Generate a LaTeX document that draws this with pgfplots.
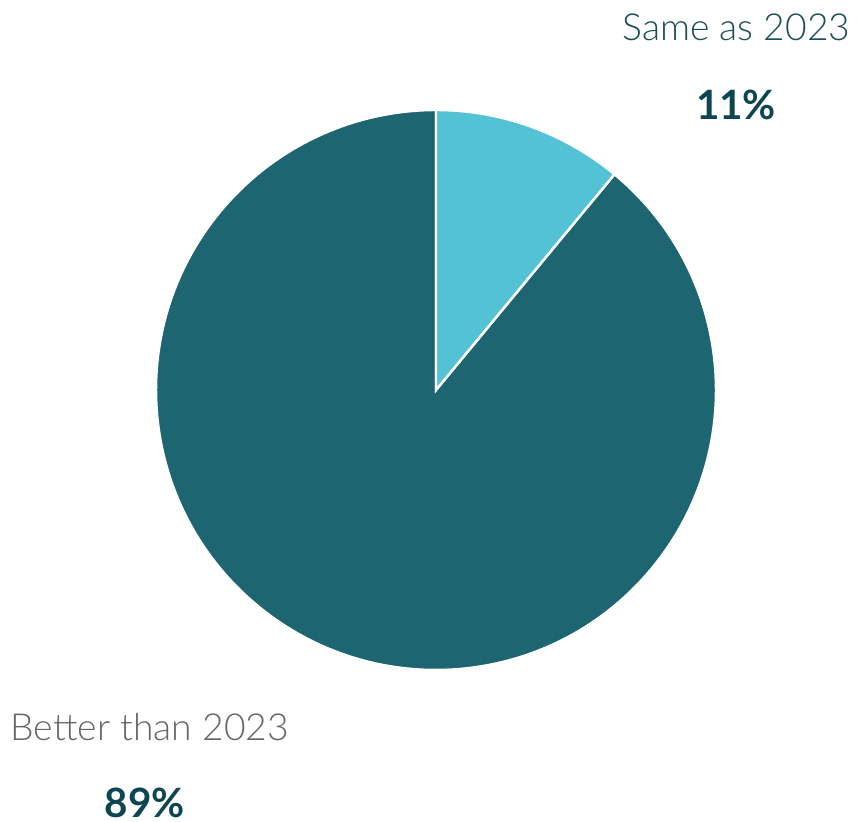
\documentclass[border=0pt]{standalone}
\usepackage{fontspec}
\setmainfont{Lato}[UprightFont=* Light, BoldFont=* Bold]
\usepackage{pgfplots}
\usepackage{pgfplotstable}
\pgfplotsset{compat=1.18}
\definecolor{darkteal}{HTML}{1D6570}
\definecolor{lightcyan}{HTML}{53C2D5}
\definecolor{labteal}{HTML}{1B4E5B}
\definecolor{labgray}{HTML}{666666}
\definecolor{pctteal}{HTML}{0D4652}
\pgfplotstableread{
label value
Same 11
Better 89
}\piedata
\begin{document}
\begin{tikzpicture}
\pgfplotstablegetelem{0}{value}\of\piedata
\pgfmathsetmacro{\va}{\pgfplotsretval}
\pgfplotstablegetelem{1}{value}\of\piedata
\pgfmathsetmacro{\vb}{\pgfplotsretval}
\pgfmathsetmacro{\enda}{90-3.6*\va}
\pgfmathsetmacro{\endb}{\enda-3.6*\vb}
\begin{axis}[
  width=8.59cm, height=8.22cm, scale only axis,
  xmin=0, xmax=859, ymin=0, ymax=822,
  hide axis, clip=false,
]
\addplot[draw=none] coordinates {(0,0) (859,822)};
\fill[darkteal, draw=white, line width=0.7pt] (axis cs:436,432) -- ++(\enda:2.8cm) arc[start angle=\enda, end angle=\endb, radius=2.8cm] -- cycle;
\fill[lightcyan, draw=white, line width=0.7pt] (axis cs:436,432) -- ++(90:2.8cm) arc[start angle=90, end angle=\enda, radius=2.8cm] -- cycle;
\node[inner sep=0, anchor=east, text=labteal, font=\fontsize{10.6}{13}\selectfont] at (axis cs:851,795) {Same as 2023};
\node[inner sep=0, text=pctteal, font=\fontsize{11.5}{13}\selectfont\bfseries] at (axis cs:736,717) {11\%};
\node[inner sep=0, anchor=west, text=labgray, font=\fontsize{10.6}{13}\selectfont] at (axis cs:10,95) {Better than 2023};
\node[inner sep=0, text=pctteal, font=\fontsize{11.5}{13}\selectfont\bfseries] at (axis cs:145,19) {89\%};
\end{axis}
\end{tikzpicture}
\end{document}
